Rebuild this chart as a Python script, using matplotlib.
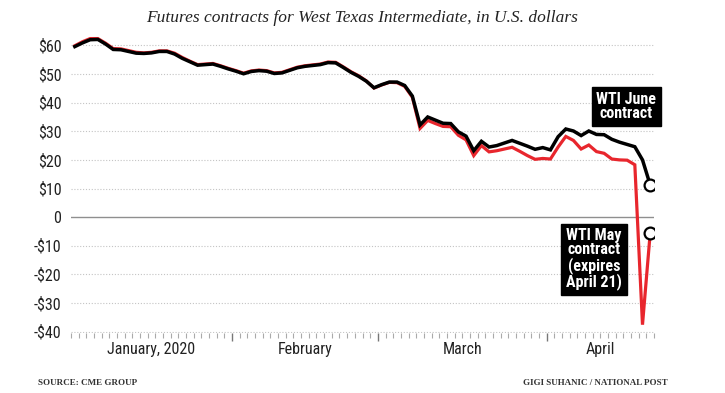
import numpy as np
import matplotlib
matplotlib.use('Agg')
import matplotlib.pyplot as plt
from matplotlib import font_manager

# WTI futures settlements, one value per trading day (Jan 2 - Apr 21, 2020)
june = [59.6, 60.9, 62.0, 62.1, 60.5, 58.6, 58.5, 57.9, 57.3, 57.2,
        57.4, 57.9, 57.9, 57.0, 55.5, 54.3, 53.1, 53.3, 53.5, 52.7,
        51.8, 51.0, 50.1, 50.9, 51.2, 51.0, 50.2, 50.4, 51.3, 52.2,
        52.7, 53.0, 53.3, 54.0, 53.9, 52.3, 50.6, 49.2, 47.5, 45.2,
        46.3, 47.2, 47.2, 46.0, 42.3, 32.2, 35.0, 33.9, 32.8, 32.7,
        29.8, 28.3, 23.2, 26.5, 24.5, 25.0, 25.9, 26.8, 25.8, 24.8,
        23.7, 24.3, 23.5, 28.1, 30.8, 30.1, 28.5, 30.1, 28.9, 28.8,
        27.2, 26.2, 25.4, 24.6, 20.0, 11.3]
may = [59.9, 61.3, 62.4, 62.4, 60.8, 58.9, 58.8, 58.2, 57.6, 57.4,
       57.6, 58.1, 58.1, 57.3, 55.8, 54.5, 53.3, 53.5, 53.7, 52.9,
       52.0, 51.2, 50.3, 51.1, 51.4, 51.2, 50.4, 50.6, 51.5, 52.4,
       52.9, 53.2, 53.5, 54.2, 54.1, 52.5, 50.8, 49.4, 47.6, 45.1,
       46.2, 47.1, 47.0, 45.7, 41.9, 31.0, 33.8, 32.7, 31.7, 31.6,
       28.6, 27.0, 21.5, 25.0, 22.8, 23.2, 23.8, 24.4, 23.0, 21.5,
       20.2, 20.5, 20.3, 24.5, 28.2, 26.8, 23.8, 25.2, 22.9, 22.3,
       20.3, 20.0, 19.9, 18.3, -37.6, -5.7]

month_names = ['January, 2020', 'February', 'March', 'April']
month_days = [21, 19, 22, 14]
y_ticks = [60, 50, 40, 30, 20, 10, 0, -10, -20, -30, -40]


def pick_font(names):
    installed = {f.name for f in font_manager.fontManager.ttflist}
    for n in names:
        if n in installed:
            return n
    return 'DejaVu Sans'


cond = pick_font(['Liberation Sans Narrow', 'Roboto Condensed', 'Open Sans Condensed', 'Roboto'])
serif = pick_font(['Liberation Serif', 'DejaVu Serif'])

fig = plt.figure(figsize=(7.25, 3.93), dpi=100)
ax = fig.add_axes([71 / 725, (393 - 333) / 393, 583 / 725, (333 - 34) / 393])

x = np.arange(len(june))
ax.set_xlim(-0.5, len(june) - 0.5)
ax.set_ylim(-40.5, 64)

# grid
for v in y_ticks:
    if v == 0:
        ax.axhline(0, color='#8f8f8f', lw=1.0, zorder=1)
    else:
        ax.axhline(v, color='#c4c4c4', lw=0.8, ls=(0, (1, 1.6)), zorder=1)

ax.plot(x, may, color='#e8262d', lw=2.3, solid_joinstyle='miter', zorder=3)
ax.plot(x, june, color='black', lw=2.5, solid_joinstyle='miter', zorder=4)
ax.plot(x[-1], june[-1], 'o', ms=8.5, mfc='white', mec='black', mew=1.6, zorder=5)
ax.plot(x[-1], may[-1], 'o', ms=8.5, mfc='white', mec='black', mew=1.6, zorder=5)

for s in ax.spines.values():
    s.set_visible(False)

ax.set_yticks(y_ticks)
ax.set_yticklabels(['0' if v == 0 else ('-$%d' % -v if v < 0 else '$%d' % v) for v in y_ticks],
                   fontfamily=cond, fontsize=11.5, color='#222222')
ax.tick_params(axis='y', length=0, pad=7)

bounds = np.cumsum(month_days)
ax.set_xticks(bounds[:-1] - 0.5)
ax.set_xticks(np.arange(-0.5, len(june)), minor=True)
ax.set_xticklabels([])
ax.tick_params(axis='x', which='major', length=6, width=1.0, color='#777777', direction='out')
ax.tick_params(axis='x', which='minor', length=3.5, width=0.8, color='#aaaaaa', direction='out')

starts = np.concatenate([[0], bounds[:-1]])
for name, s0, n in zip(month_names, starts, month_days):
    ax.text(s0 + (n - 1) / 2, -43.5, name, ha='center', va='top', fontfamily=cond,
            fontsize=11.5, color='#222222', clip_on=False)

box = dict(boxstyle='square,pad=0.3', fc='black', ec='black')
ax.text(71.9, 38.6, 'WTI June\ncontract', ha='center', va='center', color='white',
        fontfamily=cond, fontweight='bold', fontsize=11.5, linespacing=0.95,
        bbox=box, zorder=6, clip_on=False)
ax.text(67.7, -14.6, 'WTI May\ncontract\n(expires\nApril 21)', ha='center', va='center',
        color='white', fontfamily=cond, fontweight='bold', fontsize=11.5,
        linespacing=0.95, bbox=box, zorder=6)

fig.text(0.5, 1 - 18 / 393, 'Futures contracts for West Texas Intermediate, in U.S. dollars',
         ha='center', va='center', fontfamily=serif, style='italic', fontsize=12.5, color='#222222')
fig.text(38 / 725, 1 - 383 / 393, 'SOURCE: CME GROUP', ha='left', va='center',
         fontfamily=serif, fontweight='bold', fontsize=6.5, color='#333333')
fig.text(668 / 725, 1 - 383 / 393, 'GIGI SUHANIC / NATIONAL POST', ha='right', va='center',
         fontfamily=serif, fontweight='bold', fontsize=6.5, color='#333333')

fig.savefig('out.png', dpi=100)
